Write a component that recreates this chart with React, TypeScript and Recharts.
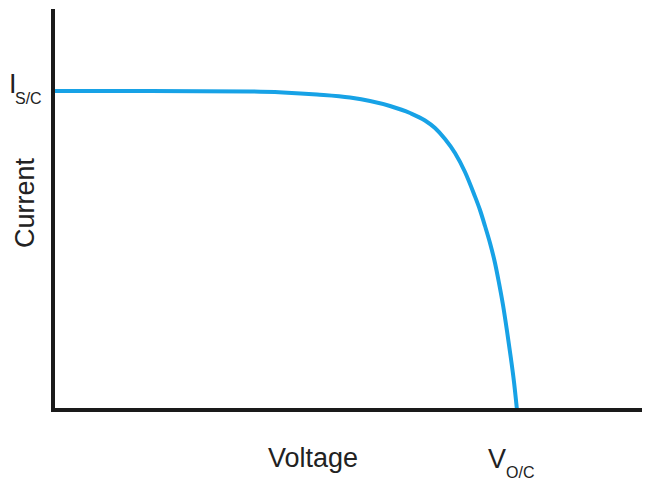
import { LineChart, Line, XAxis, YAxis } from "recharts";

// I-V curve (voltage/current in arbitrary units)
const voltage = [0, 97, 197, 230, 264, 297, 337, 357, 372, 382, 392, 402, 412, 421, 427, 432, 437, 442, 446, 450, 454, 458, 461, 464];
const current = [319, 319, 318.5, 317.5, 315.5, 312.5, 304, 297, 289.5, 282, 271, 257, 238, 216, 200, 184, 167, 147, 127, 105, 79, 51, 28, 0];

const data = voltage.map((v, i) => ({ v, i: current[i] }));

const font = "'Liberation Sans', Arial, sans-serif";
const ink = "#222";

export default function App() {
  return (
    <div style={{ position: "absolute", left: 0, top: 0, width: 650, height: 490, background: "#fff" }}>
      <LineChart
        width={650}
        height={490}
        data={data}
        margin={{ top: 9, right: 10, left: 52, bottom: 79 }}
      >
        <XAxis
          dataKey="v"
          type="number"
          domain={[0, 587]}
          tick={false}
          tickLine={false}
          height={1}
          axisLine={{ stroke: "#1a1a1a", strokeWidth: 4, strokeLinecap: "square" }}
        />
        <YAxis
          type="number"
          domain={[0, 401]}
          tick={false}
          tickLine={false}
          width={1}
          axisLine={{ stroke: "#1a1a1a", strokeWidth: 4 }}
        />
        <Line
          type="monotone"
          dataKey="i"
          stroke="#17a2e6"
          strokeWidth={4}
          dot={false}
          isAnimationActive={false}
        />
      </LineChart>

      <svg
        width={650}
        height={490}
        style={{ position: "absolute", left: 0, top: 0, pointerEvents: "none" }}
        fontFamily={font}
        fill={ink}
      >
        <text x={9} y={93} fontSize={27}>I</text>
        <text x={15} y={104} fontSize={16}>S/C</text>
        <text x={34} y={203} fontSize={27} textAnchor="middle" transform="rotate(-90, 34, 203)">
          Current
        </text>
        <text x={268} y={467} fontSize={27}>Voltage</text>
        <text x={488} y={468} fontSize={27}>V</text>
        <text x={506} y={478} fontSize={16}>O/C</text>
      </svg>
    </div>
  );
}
